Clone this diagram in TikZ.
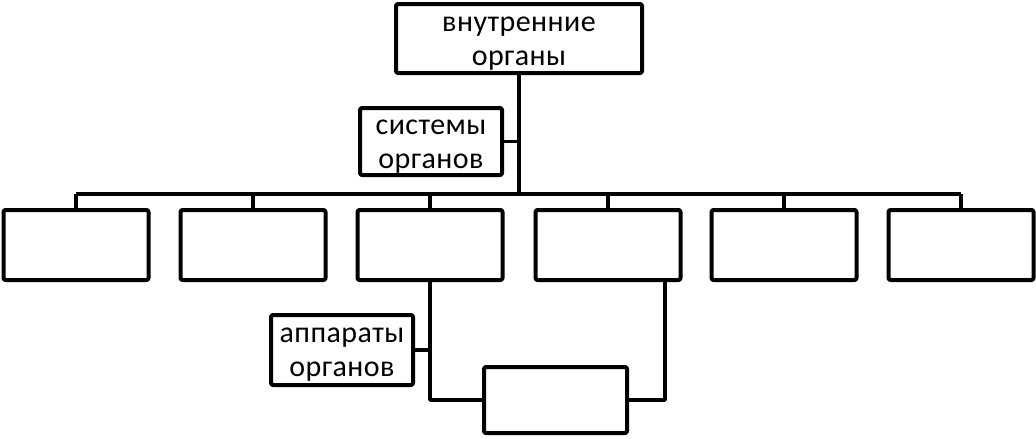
\documentclass[tikz,border=0pt]{standalone}
\usepackage{fontspec}
\setmainfont[LetterSpace=1.5]{Carlito}
\newcommand\tstrut{\rule{0pt}{18pt}}
\begin{document}
\begin{tikzpicture}[x=.75pt, y=-.75pt, line join=round, font=\fontsize{22.5}{25.5}\selectfont,
	box/.style={draw, line width=3pt, rounded corners=1.5pt, inner sep=0pt, align=center},
	link/.style={line width=2.6pt}]
	\useasboundingbox (0,0) rectangle (1036,439);
	\node[box, minimum width=246*.75pt, minimum height=69*.75pt] (top) at (519,38.5) {\tstrut внутренние\\органы};
	\node[box, minimum width=142*.75pt, minimum height=67*.75pt] (sys) at (431,141.5) {\tstrut системы\\органов};
	\foreach \i/\x in {1/76,2/253,3/430,4/608,5/784,6/961}
		\node[box, minimum width=145*.75pt, minimum height=70*.75pt] (b\i) at (\x,245) {};
	\node[box, minimum width=142*.75pt, minimum height=70*.75pt] (app) at (342,350) {\tstrut аппараты\\органов};
	\node[box, minimum width=143*.75pt, minimum height=66*.75pt] (bot) at (555.5,400) {};
	\coordinate (bus) at (519,194);
	\coordinate (r4) at (665,280);
	% stem and bus
	\draw[link] (top.south) -- (bus);
	\draw[link] (b1.north |- bus) -- (b6.north |- bus);
	\foreach \i in {1,...,6} \draw[link] (b\i.north) -- (b\i.north |- bus);
	\draw[link] (sys.east) -- (sys.east -| bus);
	% lower part
	\draw[link] (b3.south) |- (bot.west);
	\draw[link] (r4) |- (bot.east);
	\draw[link] (app.east) -- (app.east -| b3.south);
\end{tikzpicture}
\end{document}
